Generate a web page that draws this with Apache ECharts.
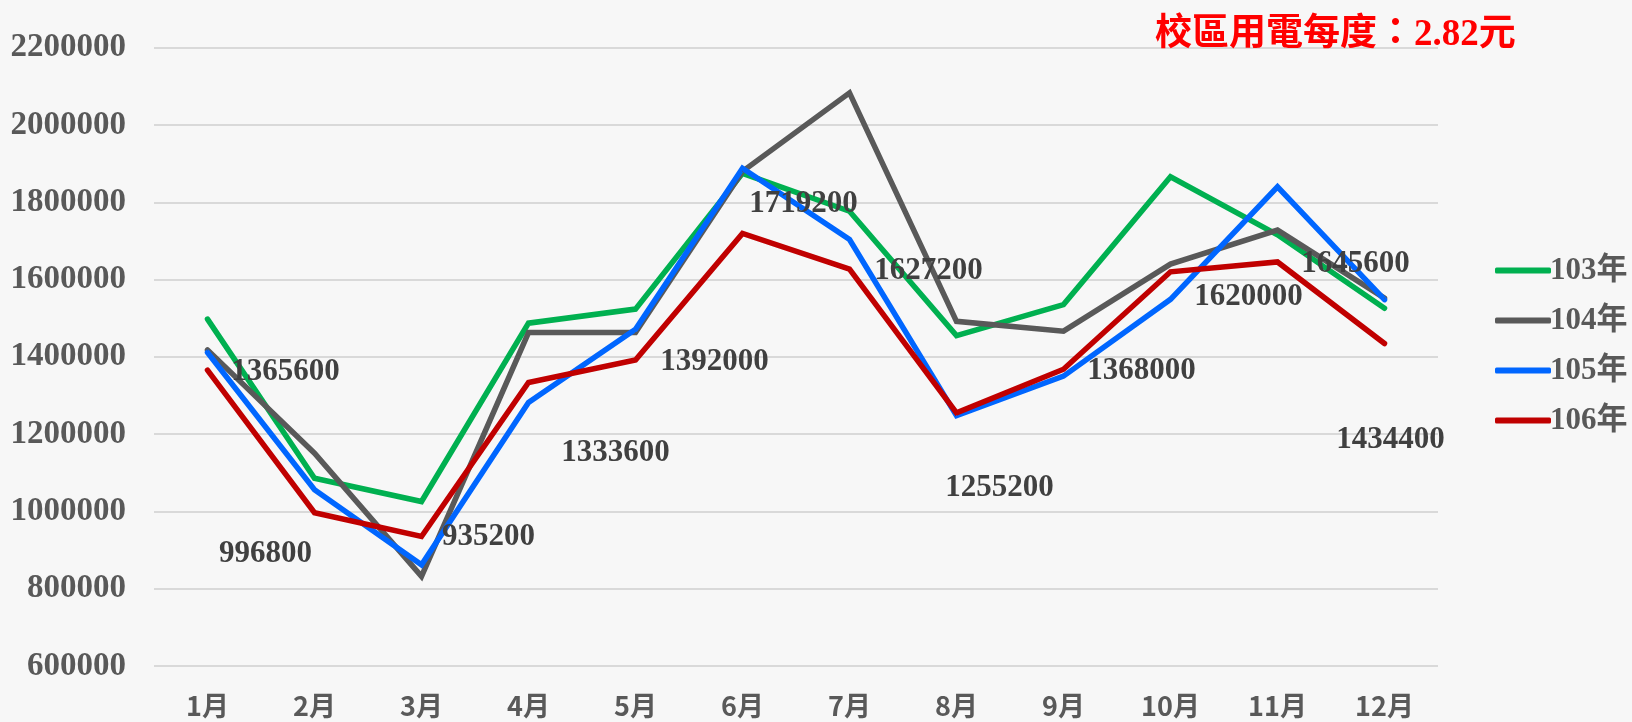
<!DOCTYPE html>
<html>
<head>
<meta charset="utf-8">
<script src="https://cdn.jsdelivr.net/npm/echarts@6/dist/echarts.min.js"></script>
<style>
html,body{margin:0;padding:0;background:#f7f7f7;}
#chart{width:1632px;height:722px;}
</style>
</head>
<body>
<div id="chart"></div>
<script>
const months = ['1月','2月','3月','4月','5月','6月','7月','8月','9月','10月','11月','12月'];
const seriesNames = ['103年','104年','105年','106年'];
const y103 = [1497600, 1086000, 1025600, 1487200, 1523600, 1875000, 1776800, 1455200, 1535200, 1866000, 1716000, 1525600];
const y104 = [1418000, 1150800, 832000, 1462800, 1462800, 1880000, 2083200, 1492000, 1466400, 1640000, 1728000, 1552000];
const y105 = [1411200, 1056000, 862000, 1282000, 1471600, 1888000, 1703600, 1248000, 1350000, 1548800, 1840000, 1548000];
const y106 = [1365600, 996800, 935200, 1333600, 1392000, 1719200, 1627200, 1255200, 1368000, 1620000, 1645600, 1434400];
const yTicks = {min: 600000, max: 2200000, interval: 200000};
const titleText = '校區用電每度：2.82元';

// label offsets (style only) for the 106年 data labels, relative to the point
const labelOffsets = [[78,2],[-49,41],[67,1],[87,70],[79,2],[61,-30],[79,2],[43,75],[78,2],[78,25],[78,2],[6,96]];

const colors = ['#00b050', '#595959', '#0066ff', '#c00000'];
const serif = '"Liberation Serif", "Noto Sans CJK TC", serif';
const cjk = '"Noto Sans CJK TC", sans-serif';

function mkSeries(name, data, color, withLabels) {
  const s = {
    name: name,
    type: 'line',
    data: withLabels ? data.map((v, i) => ({
      value: v,
      label: {show: true, position: [0.5 + labelOffsets[i][0], 0.5 + labelOffsets[i][1]], align: 'center', verticalAlign: 'middle'}
    })) : data,
    symbol: 'circle',
    symbolSize: 1,
    showSymbol: true,
    itemStyle: {color: color},
    lineStyle: {color: color, width: 5.5, cap: 'round', join: 'miter'},
    emphasis: {disabled: true},
    labelLayout: {hideOverlap: false},
    animation: false,
    z: 2
  };
  if (withLabels) {
    s.label = {
      show: true,
      color: '#404040',
      fontFamily: serif,
      fontWeight: 'bold',
      fontSize: 31,
      align: 'center',
      verticalAlign: 'middle',
      formatter: p => String(p.value)
    };
  }
  return s;
}

const chart = echarts.init(document.getElementById('chart'));
chart.setOption({
  backgroundColor: '#f7f7f7',
  animation: false,
  title: {
    text: titleText,
    left: 1150,
    top: 12,
    textStyle: {color: '#ff0000', fontSize: 37, fontWeight: 'bold', fontFamily: '"Liberation Serif", "Noto Sans CJK TC", serif'}
  },
  grid: {left: 154, right: 194, top: 47.7, bottom: 56, containLabel: false},
  legend: {
    orient: 'vertical',
    left: 1490,
    top: 250,
    itemWidth: 56,
    itemHeight: 6,
    itemGap: 19,
    icon: 'roundRect',
    data: seriesNames,
    textStyle: {color: '#595959', fontSize: 31, fontWeight: 'bold', fontFamily: serif, padding: [0,0,0,-6]}
  },
  xAxis: {
    type: 'category',
    data: months,
    boundaryGap: true,
    axisLine: {show: false},
    axisTick: {show: false},
    axisLabel: {color: '#595959', fontSize: 27, fontWeight: 'bold', fontFamily: cjk, margin: 26}
  },
  yAxis: {
    type: 'value',
    min: yTicks.min,
    max: yTicks.max,
    interval: yTicks.interval,
    axisLine: {show: false},
    axisTick: {show: false},
    splitLine: {lineStyle: {color: '#d9d9d9', width: 2}},
    axisLabel: {color: '#595959', fontSize: 33, fontWeight: 'bold', fontFamily: serif, margin: 28, formatter: v => String(v)}
  },
  series: [
    mkSeries(seriesNames[0], y103, colors[0], false),
    mkSeries(seriesNames[1], y104, colors[1], false),
    mkSeries(seriesNames[2], y105, colors[2], false),
    mkSeries(seriesNames[3], y106, colors[3], true)
  ]
});
</script>
</body>
</html>
